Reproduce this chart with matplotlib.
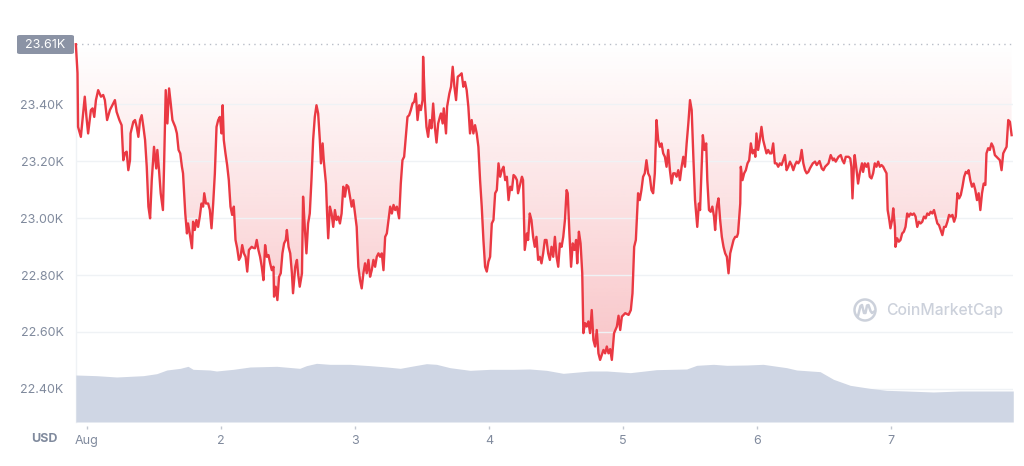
import numpy as np
import matplotlib
matplotlib.use("Agg")
import matplotlib.pyplot as plt
from matplotlib.patches import Ellipse, FancyBboxPatch
from matplotlib.lines import Line2D
from matplotlib.ticker import FuncFormatter

plt.rcParams['font.family'] = ['Inter', 'DejaVu Sans']

# ---------------- data (hours since Aug 1 00:00, USD) ----------------
price_hours = [
    -2.0, -1.7, -1.6, -1.1, -0.8, -0.4, -0.1, 0.2, 0.7, 1.0, 1.3, 1.6, 2.0, 2.5, 2.9, 3.2, 3.6, 4.1, 4.7, 5.0,
    5.3, 5.8, 6.2, 6.5, 6.8, 7.1, 7.4, 7.7, 7.8, 8.3, 8.6, 8.9, 9.2, 9.5, 9.8, 10.1, 10.4, 10.7, 11.0, 11.3,
    11.6, 12.0, 12.4, 12.6, 12.9, 13.2, 13.6, 13.8, 14.1, 14.4, 14.7, 15.0, 15.3, 15.8, 16.1, 16.4, 16.7, 17.0, 17.2, 17.6,
    17.9, 18.1, 18.4, 18.8, 19.0, 19.3, 19.6, 19.9, 20.2, 20.5, 20.8, 21.0, 21.3, 21.7, 22.0, 22.3, 22.6, 22.9, 23.2, 23.5,
    23.8, 24.1, 24.3, 24.5, 24.8, 25.1, 25.4, 25.7, 26.0, 26.3, 26.6, 26.9, 27.2, 27.5, 27.8, 28.1, 28.4, 28.7, 29.0, 29.5,
    29.8, 30.1, 30.4, 30.7, 31.0, 31.3, 31.6, 31.9, 32.2, 32.5, 32.8, 33.1, 33.4, 33.5, 33.8, 34.1, 34.4, 34.7, 35.0, 35.3,
    35.6, 35.8, 36.1, 36.4, 36.7, 36.9, 37.3, 37.6, 37.8, 38.1, 38.5, 38.7, 39.0, 39.3, 39.6, 39.9, 40.2, 40.5, 40.8, 41.1,
    41.4, 41.7, 41.9, 42.2, 42.4, 42.8, 43.0, 43.2, 43.5, 43.8, 44.1, 44.4, 44.7, 45.0, 45.3, 45.6, 45.9, 46.2, 46.5, 46.8,
    47.1, 47.4, 47.7, 48.0, 48.3, 48.6, 48.9, 49.2, 49.5, 49.8, 50.1, 50.4, 50.7, 51.0, 51.3, 51.6, 51.9, 52.2, 52.5, 52.8,
    53.1, 53.4, 53.7, 54.0, 54.3, 54.6, 54.9, 55.2, 55.5, 55.9, 56.2, 56.5, 56.8, 57.1, 57.4, 57.7, 58.0, 58.3, 58.6, 58.9,
    59.2, 59.5, 59.8, 60.1, 60.2, 60.5, 60.8, 61.1, 61.4, 61.7, 62.0, 62.3, 62.6, 62.9, 63.2, 63.4, 63.7, 63.9, 64.3, 64.5,
    64.9, 65.2, 65.5, 65.8, 66.1, 66.4, 66.8, 67.1, 67.4, 67.7, 68.0, 68.3, 68.6, 68.9, 69.2, 69.5, 69.8, 70.1, 70.4, 70.7,
    71.0, 71.3, 71.6, 71.9, 72.2, 72.5, 72.8, 73.1, 73.4, 73.7, 74.0, 74.3, 74.6, 74.9, 75.2, 75.5, 75.8, 76.1, 76.4, 76.7,
    77.0, 77.2, 77.6, 77.9, 78.1, 78.4, 78.8, 79.0, 79.3, 79.6, 79.9, 80.2, 80.5, 80.8, 81.1, 81.4, 81.7, 82.0, 82.3, 82.6,
    82.9, 83.2, 83.5, 83.8, 84.1, 84.4, 84.7, 85.0, 85.3, 85.6, 85.9, 86.1, 86.4, 86.7, 87.0, 87.3, 87.6, 87.8, 88.1, 88.4,
    88.7, 88.9, 89.2, 89.5, 89.8, 90.1, 90.4, 90.7, 91.0, 91.3, 91.6, 91.9, 92.2, 92.5, 92.8, 93.1, 93.4, 93.7, 94.0, 94.4,
    94.9, 95.2, 95.5, 95.8, 96.4, 97.0, 97.4, 97.7, 98.0, 98.3, 98.6, 98.7, 99.0, 99.3, 99.6, 99.9, 100.2, 100.5, 100.8, 101.1,
    101.4, 101.7, 102.0, 102.3, 102.6, 102.9, 103.2, 103.5, 103.8, 104.1, 104.4, 104.7, 105.0, 105.3, 105.6, 105.9, 106.2, 106.5, 106.8, 107.1,
    107.4, 107.7, 108.0, 108.3, 108.6, 108.9, 109.1, 109.3, 109.6, 109.8, 110.1, 110.3, 110.6, 110.9, 111.1, 111.4, 111.7, 112.0, 112.3, 112.5,
    112.8, 113.1, 113.4, 113.7, 114.0, 114.3, 114.6, 114.9, 115.2, 115.5, 115.8, 116.1, 116.4, 116.6, 117.0, 117.1, 117.4, 117.7, 118.0, 118.3,
    118.6, 118.9, 119.2, 119.5, 119.7, 119.9, 120.2, 120.5, 120.8, 121.1, 121.4, 121.7, 122.0, 122.3, 122.6, 122.9, 123.2, 123.5, 123.8, 124.1,
    124.4, 124.7, 125.0, 125.3, 125.6, 125.9, 126.2, 126.5, 126.8, 127.1, 127.4, 127.7, 128.0, 128.3, 128.6, 128.9, 129.2, 129.5, 130.0, 130.4,
    130.7, 131.2, 131.6, 131.9, 132.2, 132.5, 132.8, 133.2, 133.6, 133.8, 134.1, 134.6, 135.0, 135.3, 135.6, 135.9, 136.4, 136.7, 136.9, 137.1,
    137.4, 137.5, 137.9, 138.1, 138.4, 138.8, 139.0, 139.3, 139.6, 139.9, 140.2, 140.5, 140.8, 141.1, 141.4, 141.7, 142.0, 142.3, 142.6, 142.9,
    143.2, 143.4, 143.7, 143.9, 144.2, 144.4, 144.7, 144.8, 145.1, 145.4, 145.7, 146.0, 146.3, 146.6, 146.9, 147.2, 147.5, 147.8, 148.1, 148.4,
    148.7, 149.0, 149.3, 149.6, 149.9, 150.2, 150.5, 150.8, 151.1, 151.4, 151.7, 152.0, 152.3, 152.6, 152.9, 153.2, 153.5, 153.8, 154.1, 154.4,
    154.7, 155.0, 155.3, 155.6, 155.9, 156.2, 156.5, 156.8, 157.1, 157.4, 157.7, 157.9, 158.2, 158.5, 158.8, 159.1, 159.4, 159.7, 160.0, 160.3,
    160.6, 160.9, 161.1, 161.4, 161.7, 162.0, 162.3, 162.6, 162.9, 163.2, 163.5, 163.8, 164.1, 164.4, 164.7, 165.0, 165.3, 165.6,
]
price_usd = [
    23610, 23509, 23320, 23285, 23344, 23426, 23355, 23297, 23379, 23385, 23355, 23414, 23449, 23426, 23432, 23414, 23344, 23379, 23402, 23414,
    23373, 23344, 23326, 23203, 23228, 23233, 23168, 23203, 23297, 23338, 23344, 23320, 23285, 23344, 23361, 23320, 23274, 23180, 23040, 22999,
    23133, 23250, 23174, 23239, 23168, 23087, 23028, 23180, 23449, 23332, 23455, 23402, 23344, 23320, 23297, 23239, 23227, 23180, 23157, 23016,
    22946, 22981, 22946, 22894, 22987, 22958, 22993, 22969, 23005, 23051, 23040, 23087, 23051, 23051, 23028, 22964, 23051, 23157, 23320, 23344,
    23355, 23297, 23396, 23274, 23227, 23186, 23133, 23040, 23011, 23040, 22923, 22894, 22853, 22864, 22905, 22876, 22864, 22812, 22888, 22899,
    22895, 22894, 22923, 22888, 22864, 22829, 22782, 22905, 22864, 22870, 22841, 22817, 22829, 22724, 22759, 22712, 22794, 22806, 22876, 22911,
    22923, 22958, 22899, 22876, 22806, 22736, 22829, 22853, 22806, 22759, 22806, 23075, 22969, 22876, 22981, 23016, 23133, 23274, 23355, 23396,
    23367, 23274, 23192, 23262, 23203, 23121, 23016, 22929, 23040, 23016, 22969, 23028, 22993, 23005, 22981, 23016, 23110, 23075, 23116, 23110,
    23075, 23040, 23063, 23016, 22969, 22829, 22782, 22753, 22806, 22841, 22806, 22853, 22794, 22817, 22853, 22829, 22864, 22876, 22864, 22876,
    22817, 22934, 22946, 22993, 23040, 23016, 23046, 23028, 23040, 22999, 23121, 23203, 23215, 23285, 23355, 23361, 23379, 23402, 23408, 23437,
    23344, 23396, 23379, 23414, 23566, 23414, 23320, 23285, 23344, 23315, 23402, 23320, 23265, 23332, 23355, 23367, 23332, 23385, 23297, 23391,
    23437, 23461, 23531, 23461, 23414, 23496, 23502, 23508, 23461, 23478, 23449, 23391, 23297, 23344, 23297, 23326, 23297, 23250, 23133, 23040,
    22923, 22829, 22812, 22847, 22864, 22981, 22993, 23087, 23098, 23192, 23145, 23168, 23180, 23133, 23145, 23063, 23110, 23098, 23151, 23145,
    23133, 23087, 23121, 23145, 23133, 22888, 22946, 22923, 23016, 22993, 22934, 22899, 22934, 22853, 22864, 22841, 22876, 22923, 22923, 22876,
    22853, 22899, 22864, 22934, 22864, 22829, 22911, 22899, 22934, 22993, 23098, 23087, 22946, 22829, 22911, 22888, 22923, 22841, 22952, 22911,
    22806, 22596, 22631, 22619, 22637, 22596, 22677, 22572, 22549, 22607, 22525, 22502, 22519, 22537, 22525, 22549, 22525, 22540, 22502, 22596,
    22619, 22657, 22607, 22654, 22666, 22660, 22677, 22736, 22899, 22923, 23051, 23087, 23063, 23098, 23145, 23157, 23203, 23157, 23145, 23098,
    23087, 23157, 23344, 23274, 23250, 23262, 23227, 23215, 23180, 23239, 23168, 23121, 23157, 23157, 23145, 23168, 23133, 23180, 23215, 23180,
    23262, 23332, 23414, 23379, 23215, 23063, 23016, 22969, 23051, 23028, 23180, 23291, 23239, 23262, 23133, 23028, 23022, 23040, 23005, 22958,
    23040, 23069, 22993, 22934, 22899, 22876, 22864, 22806, 22876, 22899, 22923, 22934, 22934, 22946, 23051, 23180, 23133, 23157, 23168, 23192,
    23203, 23262, 23227, 23239, 23215, 23297, 23239, 23274, 23320, 23274, 23250, 23227, 23239, 23227, 23227, 23262, 23192, 23192, 23180, 23192,
    23186, 23203, 23221, 23168, 23180, 23198, 23186, 23168, 23186, 23198, 23192, 23203, 23239, 23192, 23168, 23157, 23162, 23175, 23192, 23198,
    23186, 23200, 23174, 23168, 23180, 23186, 23192, 23221, 23203, 23209, 23198, 23215, 23221, 23203, 23192, 23215, 23215, 23209, 23180, 23069,
    23203, 23221, 23157, 23121, 23157, 23192, 23162, 23192, 23180, 23192, 23145, 23139, 23157, 23192, 23180, 23198, 23180, 23186, 23180, 23168,
    23157, 23028, 22993, 22964, 22993, 23034, 22969, 22899, 22929, 22917, 22923, 22946, 22952, 22969, 23016, 23005, 23016, 23011, 23016, 23005,
    22969, 22987, 22981, 22987, 23005, 22999, 23016, 23011, 23022, 23016, 23028, 23005, 22981, 22975, 22958, 22940, 22969, 22969, 22987, 23011,
    23005, 23011, 22987, 23005, 23087, 23069, 23081, 23110, 23145, 23162, 23157, 23168, 23133, 23110, 23121, 23098, 23063, 23087, 23028, 23087,
    23121, 23116, 23227, 23245, 23239, 23262, 23250, 23221, 23215, 23209, 23203, 23168, 23227, 23239, 23250, 23344, 23338, 23291,
]

# 24h volume (billions USD)
volume_hours = [
    -2.0, 1.7, 5.3, 10.1, 12.5, 14.3, 16.7, 18.1, 19.0, 22.0, 23.2, 26.2, 29.2, 34.0, 38.1, 39.3, 41.1, 43.5, 47.1, 50.7,
    53.7, 56.1, 58.4, 60.8, 62.6, 65.0, 68.6, 72.2, 76.4, 79.3, 82.3, 85.3, 90.1, 93.1, 97.3, 102.0, 107.4, 109.2, 112.2, 114.6,
    118.2, 121.1, 125.3, 127.1, 131.3, 133.7, 136.7, 140.2, 143.2, 146.8, 151.6, 156.4, 161.1, 165.9,
]
volume_busd = [
    28.2, 27.8, 27.0, 27.8, 29.0, 31.2, 32.2, 33.4, 31.6, 31.2, 30.6, 31.6, 33.0, 33.4, 32.2, 33.8, 35.2, 34.6, 34.6, 33.8,
    33.0, 32.2, 33.6, 35.0, 34.6, 32.6, 31.0, 31.6, 31.6, 31.8, 31.0, 29.2, 30.6, 30.6, 29.6, 31.4, 31.8, 34.0, 34.6, 34.0,
    34.2, 34.6, 32.6, 31.2, 30.2, 25.6, 22.0, 20.2, 19.0, 18.6, 18.0, 18.6, 18.6, 18.6,
]

y_ticks = [22400, 22600, 22800, 23000, 23200, 23400]
x_tick_hours = [0, 24, 48, 72, 96, 120, 144]
x_tick_labels = ["Aug", "2", "3", "4", "5", "6", "7"]
max_price = 23610
max_label = "23.61K"

# ---------------- style ----------------
RED = "#ea3943"
GREY_TXT = "#808a9d"
GRID = "#eff2f5"
VOL = "#cfd6e4"

W, H = 1024, 466
fig = plt.figure(figsize=(W / 100, H / 100), dpi=100)
fig.patch.set_facecolor("white")

ax_l, ax_r, ax_t, ax_b = 76, 1013, 43.7, 422
ax = fig.add_axes([ax_l / W, 1 - ax_b / H, (ax_r - ax_l) / W, (ax_b - ax_t) / H])
ax.set_facecolor("none")

t = np.array(price_hours)
p = np.array(price_usd)
xmin, xmax = -1.97, 165.85
ymin, ymax = 22284, 23612
ax.set_xlim(xmin, xmax)
ax.set_ylim(ymin, ymax)

# gradient fill between price and the max (reference) line
poly = ax.fill_between(t, p, max_price, facecolor="none", edgecolor="none")
rows = 300
vals = np.linspace(ymin, ymax, rows)
alpha = np.clip(0.30 * (max_price - vals) / (max_price - 22500), 0, 0.34)
rgba = np.zeros((rows, 2, 4))
rgba[..., 0] = 234 / 255
rgba[..., 1] = 57 / 255
rgba[..., 2] = 67 / 255
rgba[..., 3] = alpha[:, None]
im = ax.imshow(rgba, extent=[xmin, xmax, ymin, ymax], origin="lower", aspect="auto",
               interpolation="bilinear", zorder=1)
im.set_clip_path(poly.get_paths()[0], transform=ax.transData)

# grid
ax.set_yticks(y_ticks)
ax.yaxis.grid(True, color=GRID, linewidth=1.0, zorder=2)
ax.set_axisbelow(False)
ax.xaxis.grid(False)

# price line
ax.plot(t, p, color=RED, linewidth=1.7, zorder=4, solid_joinstyle="round", clip_on=False)

# dotted max line
ax.axhline(max_price, color="#b9bec8", linestyle=(0, (1, 3)), linewidth=1.0, zorder=3, clip_on=False)

# y axis
ax.yaxis.set_major_formatter(FuncFormatter(lambda v, _: f"{v/1000:.2f}K"))
ax.tick_params(axis="y", length=0, pad=9, labelsize=9, labelcolor=GREY_TXT)

# x axis
ax.set_xticks(x_tick_hours)
ax.set_xticklabels(x_tick_labels)
ax.tick_params(axis="x", length=2.5, width=1, color="#c2c7d0", pad=4, labelsize=9, labelcolor=GREY_TXT)
ax.get_xticklabels()[0].set_fontweight("bold")
ax.spines["bottom"].set_position(("outward", 3))
for s in ["top", "right", "bottom"]:
    ax.spines[s].set_visible(False)
ax.spines["left"].set_color(GRID)
ax.spines["left"].set_linewidth(1.0)

# volume on twin axis
ax2 = ax.twinx()
ax2.fill_between(volume_hours, volume_busd, 0, color=VOL, linewidth=0, zorder=1)
ax2.set_ylim(0, (ax_b - ax_t) * 0.6)
ax2.set_xlim(xmin, xmax)
ax2.set_yticks([])
for s in ax2.spines.values():
    s.set_visible(False)

# max price label box
bx0, bx1, by0, by1 = 17, 74, 35, 54
fig.patches.append(FancyBboxPatch((bx0 / W, 1 - by1 / H), (bx1 - bx0) / W, (by1 - by0) / H,
                                  boxstyle="round,pad=0,rounding_size=0.003",
                                  transform=fig.transFigure, facecolor="#8b93a5",
                                  edgecolor="none", zorder=5))
fig.text((bx0 + bx1) / 2 / W, 1 - (by0 + by1) / 2 / H, max_label, ha="center", va="center",
         color="white", fontsize=9, zorder=6)

# currency label
fig.text(44 / W, 1 - 439 / H, "USD", ha="center", va="center", color=GREY_TXT,
         fontsize=9, fontweight="bold")

# watermark
WM = "#ccd1db"
cx, cy, r = 865, 310, 10.5
fig.patches.append(Ellipse((cx / W, 1 - cy / H), 2 * r / W, 2 * r / H, transform=fig.transFigure,
                           facecolor="none", edgecolor=WM, linewidth=1.8))
wave_px = [(858, 316), (860.5, 306), (862, 305), (864, 313), (865.5, 313), (867, 305.5),
           (868.5, 305), (870.5, 311), (872, 313), (875, 311)]
fig.lines.append(Line2D([x / W for x, _ in wave_px], [1 - y / H for _, y in wave_px],
                        transform=fig.transFigure, color=WM, linewidth=1.8,
                        solid_joinstyle="round", solid_capstyle="round"))
fig.text(886 / W, 1 - 311 / H, "CoinMarketCap", ha="left", va="center", color=WM,
         fontsize=11.3, fontweight="medium")

fig.savefig("out.png", dpi=100, facecolor="white")
